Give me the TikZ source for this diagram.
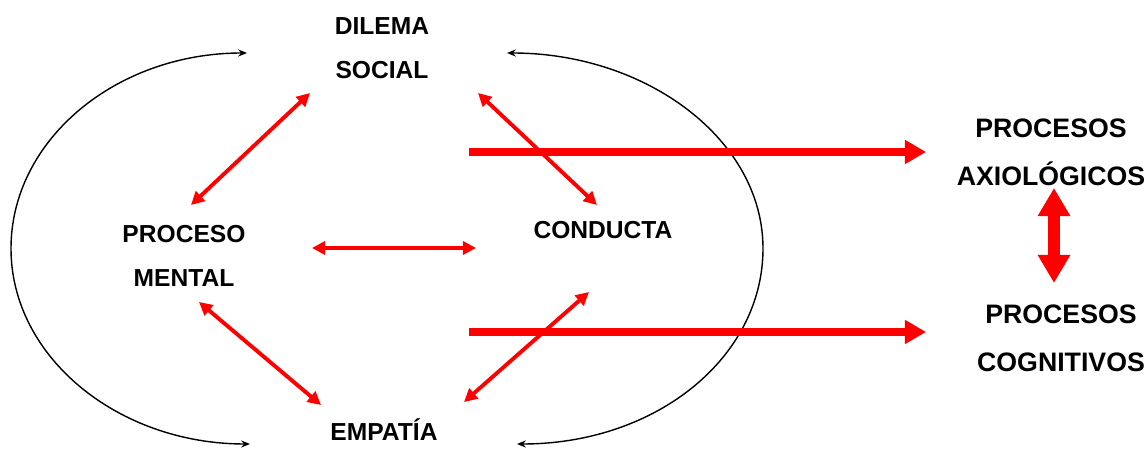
\documentclass[tikz,border=0pt]{standalone}
\usepackage{fontspec}
\setmainfont{Liberation Sans}
\usetikzlibrary{arrows.meta}
\begin{document}
\begin{tikzpicture}[x=0.02cm,y=-0.02cm,
	lbl/.style={font=\fontsize{14}{25}\selectfont\bfseries,align=center,inner sep=0pt},
	lblr/.style={font=\fontsize{15.2}{27.5}\selectfont\bfseries,align=center,inner sep=0pt},
	rel/.style={red,line width=2.2pt,arrows={Triangle[length=7.5pt,width=7.5pt]-Triangle[length=7.5pt,width=7.5pt]}},
	flow/.style={red,line width=4.8pt,arrows={-Triangle[length=12pt,width=13pt]}},
	dbl/.style={red,line width=6.8pt,arrows={Triangle[length=16pt,width=17.5pt]-Triangle[length=16pt,width=17.5pt]}},
	around/.style={black,line width=0.8pt,arrows={Stealth[length=5pt,width=4pt]-Stealth[length=5pt,width=4pt]}}]
	\useasboundingbox (0,0) rectangle (1146,449);
	% texts
	\node[lbl](dilema) at (382,48.5){DILEMA\\SOCIAL};
	\node[lbl](proceso) at (184,255.5){PROCESO\\MENTAL};
	\node[lbl](conducta) at (603,230){CONDUCTA};
	\node[lbl](empatia) at (384,430){EMPATÍA};
	\node[lblr](axio) at (1051,152.5){PROCESOS\\AXIOLÓGICOS};
	\node[lblr](cogn) at (1061,338.5){PROCESOS\\COGNITIVOS};
	% arrow ends
	\coordinate (d1) at (310,93);
	\coordinate (d2) at (478,93);
	\coordinate (p1) at (191,205);
	\coordinate (p2) at (312,248);
	\coordinate (p3) at (199,302);
	\coordinate (c1) at (597,205);
	\coordinate (c2) at (476,248);
	\coordinate (c3) at (589,292);
	\coordinate (e1) at (321,405);
	\coordinate (e2) at (464,402);
	\coordinate (a0) at (469,152);
	\coordinate (a1) at (926,152);
	\coordinate (b0) at (469,332);
	\coordinate (b1) at (926,332);
	\coordinate (v1) at (1054,188);
	\coordinate (v2) at (1054,283);
	\coordinate (lt) at (247,53);
	\coordinate (lm) at (11,248.5);
	\coordinate (lb) at (250,444);
	\coordinate (rt) at (507,53);
	\coordinate (rm) at (763,248.5);
	\coordinate (rb) at (517,444);
	% loops
	\draw[around](lt) .. controls (116,53) and (11,140) .. (lm) .. controls (11,357) and (118,444) .. (lb);
	\draw[around](rt) .. controls (647,53) and (763,140) .. (rm) .. controls (763,357) and (657,444) .. (rb);
	% relations
	\draw[rel](d1)--(p1);
	\draw[rel](d2)--(c1);
	\draw[rel](p2)--(c2);
	\draw[rel](p3)--(e1);
	\draw[rel](e2)--(c3);
	\draw[flow](a0)--(a1);
	\draw[flow](b0)--(b1);
	\draw[dbl](v1)--(v2);
\end{tikzpicture}
\end{document}
